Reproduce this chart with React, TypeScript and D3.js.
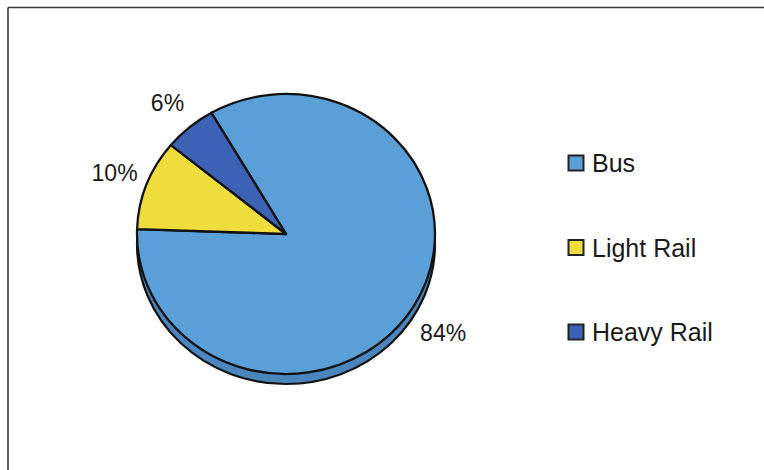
import React from "react";
import * as d3 from "d3";

const categories = ["Bus", "Light Rail", "Heavy Rail"];
const values = [83.9, 10.4, 5.7];
const colors = ["#5a9fd7", "#eedd3c", "#3c62b6"];
const sideColor = "#4a86bd";

const W = 764;
const H = 470;
const cx = 286;
const cy = 234;
const rx = 149;
const ry = 140;
const depth = 10;
const startDeg = -30.04;

export default function App() {
  const total = d3.sum(values);
  const pie = d3
    .pie<number>()
    .sort(null)
    .startAngle((startDeg * Math.PI) / 180)
    .endAngle((startDeg * Math.PI) / 180 + 2 * Math.PI);
  const arcs = pie(values);
  const arc = d3.arc<d3.PieArcDatum<number>>().innerRadius(0).outerRadius(rx);
  const sy = ry / rx;

  const legendY = d3
    .scalePoint<string>()
    .domain(categories)
    .range([163, 332]);

  return (
    <svg
      width={W}
      height={H}
      style={{ position: "absolute", left: 0, top: 0, background: "#fff", display: "block" }}
      fontFamily="'Liberation Sans', Arial, sans-serif"
    >
      <line x1={8} y1={7.5} x2={W} y2={7.5} stroke="#3a3a3a" strokeWidth={1.6} />
      <line x1={8} y1={7.5} x2={8} y2={H} stroke="#3a3a3a" strokeWidth={1.6} />
      {/* 3D side */}
      <ellipse cx={cx} cy={cy + depth} rx={rx} ry={ry} fill={sideColor} stroke="#111" strokeWidth={2.2} />
      <g transform={`translate(${cx},${cy}) scale(1,${sy})`}>
        {arcs.map((a, i) => (
          <path
            key={categories[i]}
            d={arc(a) || ""}
            fill={colors[i]}
            stroke="#111"
            strokeWidth={2.3}
            vectorEffect="non-scaling-stroke"
            strokeLinejoin="round"
          />
        ))}
      </g>
      {arcs.map((a, i) => {
        const m = (a.startAngle + a.endAngle) / 2;
        const k = 1.23;
        const x = cx + k * rx * Math.sin(m);
        let y = cy - k * ry * Math.cos(m);
        if (Math.cos(m) < 0) y += depth;
        const pct = Math.round((values[i] / total) * 100);
        return (
          <text key={"l" + i} x={x} y={y + 8.2} fontSize={23} textAnchor="middle" fill="#1a1a1a">
            {pct}%
          </text>
        );
      })}
      {categories.map((c, i) => {
        const y = legendY(c) as number;
        return (
          <g key={"lg" + c}>
            <rect x={568.5} y={y - 7.5} width={15} height={15} fill={colors[i]} stroke="#222" strokeWidth={2} />
            <text x={592} y={y + 9} fontSize={25} fill="#1a1a1a">
              {c}
            </text>
          </g>
        );
      })}
    </svg>
  );
}
